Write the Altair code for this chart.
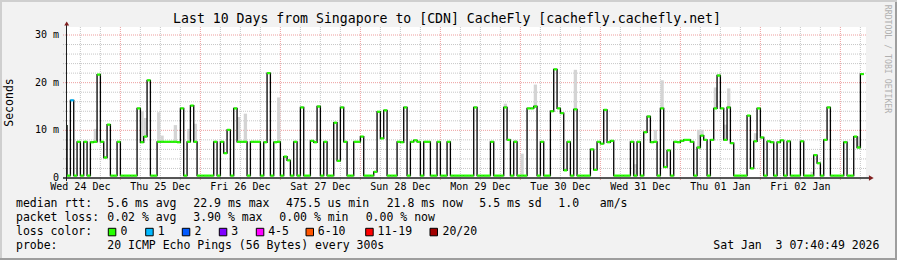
import altair as alt
import pandas as pd
from datetime import datetime, timedelta

FONT = "DejaVu Sans Mono"

# ---------------- data ----------------
graph_start = datetime(2025, 12, 24, 7, 40, 49)
graph_end = datetime(2026, 1, 3, 7, 40, 49)
first_sample = datetime(2025, 12, 24, 7, 0, 0)   # hourly medians start here

# hourly median RTT in ms
median_ms = [
    11.0, 0.5, 16.3, 0.5, 7.6, 0.5, 7.6, 0.5, 7.5, 7.6,
    21.7, 7.6, 4.3, 11.2, 0.5, 0.5, 7.6, 0.5, 0.5, 0.5,
    0.5, 0.5, 14.6, 7.5, 8.7, 20.5, 0.5, 0.5, 7.6, 7.6,
    7.6, 7.6, 7.6, 7.6, 7.5, 14.6, 0.5, 7.6, 15.2, 7.6,
    0.5, 0.5, 0.5, 0.5, 0.5, 7.6, 0.5, 7.6, 5.2, 10.1,
    0.5, 14.6, 7.6, 7.6, 7.6, 0.5, 7.6, 7.6, 7.6, 0.5,
    7.5, 22.0, 0.5, 7.5, 7.6, 0.5, 4.5, 3.7, 0.5, 7.6,
    0.5, 14.8, 0.5, 0.5, 7.8, 7.5, 15.0, 0.5, 7.6, 0.5,
    0.5, 11.6, 3.6, 14.8, 7.6, 0.5, 0.5, 7.6, 7.6, 8.7,
    0.5, 0.5, 0.5, 1.3, 13.9, 8.3, 14.2, 0.5, 0.5, 0.5,
    7.6, 7.5, 14.8, 0.5, 7.6, 7.9, 7.6, 0.5, 7.6, 7.6,
    0.5, 0.5, 7.6, 0.5, 0.5, 7.6, 0.5, 0.5, 0.5, 0.5,
    0.5, 0.5, 0.5, 14.8, 0.5, 0.5, 0.5, 0.5, 7.6, 0.5,
    0.5, 0.5, 14.8, 8.0, 0.5, 7.6, 0.5, 0.5, 0.5, 14.6,
    14.6, 15.0, 0.5, 7.6, 0.5, 0.5, 14.0, 22.8, 14.6, 13.6,
    1.6, 7.6, 0.5, 14.4, 0.5, 0.5, 0.5, 0.5, 6.0, 1.7,
    7.6, 7.2, 14.3, 7.5, 7.8, 0.5, 0.5, 0.5, 0.5, 0.5,
    7.6, 0.5, 7.6, 0.5, 9.6, 12.9, 7.5, 7.6, 0.5, 14.6,
    2.3, 5.8, 0.5, 7.6, 7.5, 7.8, 8.0, 8.0, 7.6, 0.5,
    6.4, 8.9, 8.0, 0.5, 8.0, 14.6, 21.5, 14.6, 8.0, 14.8,
    7.3, 0.5, 0.5, 0.5, 0.5, 13.1, 2.0, 7.7, 14.6, 8.5,
    0.5, 7.7, 7.5, 0.5, 7.5, 7.9, 0.5, 7.7, 0.5, 0.5,
    0.5, 7.7, 0.5, 0.5, 0.5, 4.8, 3.1, 0.5, 8.0, 14.8,
    0.5, 0.5, 0.5, 0.5, 7.5, 0.5, 0.5, 8.7, 6.4, 21.8,
]

# samples with packet loss (sample index -> lost pings of 20)
loss_index = [2]
loss_value = [1]

# smoke (spread of the 20 pings) : sample index and top of smoke in ms
smoke_index = [9, 23, 24, 28, 29, 33, 37, 39, 52, 54, 64, 132, 135, 137, 141,
               153, 171, 177, 179, 190, 191, 195, 198, 199, 207, 224, 238]
smoke_top = [10.3, 14.0, 12.6, 13.8, 8.9, 11.1, 10.3, 11.4, 12.8, 13.5, 16.9,
             15.6, 8.0, 5.1, 19.6, 22.7, 2.9, 10.1, 20.5, 10.1, 10.1, 19.0,
             11.2, 18.8, 9.4, 1.3, 8.7]

day_labels = ["Wed 24 Dec", "Thu 25 Dec", "Fri 26 Dec", "Sat 27 Dec", "Sun 28 Dec",
              "Mon 29 Dec", "Tue 30 Dec", "Wed 31 Dec", "Thu 01 Jan", "Fri 02 Jan"]
y_ticks = [0, 10, 20, 30]
y_tick_labels = ["0", "10 m", "20 m", "30 m"]

loss_names = ["0", "1", "2", "3", "4-5", "6-10", "11-19", "20/20"]
loss_colors = ["#26ff00", "#00b8ff", "#0059ff", "#7e00ff", "#ff00ff", "#ff5500", "#ff0000", "#a10000"]

legend_rows = [
    [("median rtt:", 16), ("5.6 ms avg", 107.3), ("22.9 ms max", 193.3), ("475.5 us min", 286),
     ("21.8 ms now", 386.7), ("5.5 ms sd", 479.3), ("1.0   am/s", 558.3)],
    [("packet loss:", 16), ("0.02 % avg", 107.3), ("3.90 % max", 193.3), ("0.00 % min", 279.3),
     ("0.00 % now", 365.7)],
    [("loss color:", 16)],
    [("probe:", 16), ("20 ICMP Echo Pings (56 Bytes) every 300s", 107.3),
     ("Sat Jan  3 07:40:49 2026", 713.3)],
]

# ---------------- layout ----------------
LEFT, TOP, W, H = 66, 27, 800, 151
TOTAL_W, TOTAL_H = 897, 260
YMAX = 31.68
SPAN_H = (graph_end - graph_start).total_seconds() / 3600.0


def hours(dt):
    return (dt - graph_start).total_seconds() / 3600.0


xs = alt.Scale(domain=[0, SPAN_H], nice=False, zero=False)
ys = alt.Scale(domain=[0, YMAX], nice=False, zero=False)

# ---------------- tables ----------------
loss_of = dict(zip(loss_index, loss_value))
rows = []
for i, m in enumerate(median_ms):
    h = hours(first_sample + timedelta(hours=i))
    lc = loss_of.get(i, 0)
    rows.append({"x": max(0.0, h), "x2": h + 1, "ms": m, "loss": loss_names[min(lc, 1)] if lc <= 1 else str(lc)})
med = pd.DataFrame(rows)

line_df = pd.DataFrame({"x": list(med["x"]) + [med["x2"].iloc[-1]],
                        "ms": list(med["ms"]) + [med["ms"].iloc[-1]]})

smoke_df = pd.DataFrame({
    "x": [med["x"].iloc[i] for i in smoke_index],
    "x2": [med["x2"].iloc[i] for i in smoke_index],
    "lo": [median_ms[i] for i in smoke_index],
    "hi": smoke_top,
})

grid_v = []
t = datetime(2025, 12, 24, 12, 0, 0)
while t < graph_end:
    grid_v.append({"x": hours(t), "major": t.hour == 0})
    t += timedelta(hours=6)
gv = pd.DataFrame(grid_v)
gv_minor = gv[~gv["major"]]
gv_major = gv[gv["major"]]

gh_minor = pd.DataFrame({"v": [v for v in range(2, 31, 2) if v % 10 != 0]})
gh_major = pd.DataFrame({"v": [10, 20, 30]})

day_df = pd.DataFrame({
    "x": [hours(datetime(2025, 12, 24, 12) + timedelta(days=d)) for d in range(len(day_labels))],
    "label": day_labels,
})
ytick_df = pd.DataFrame({"v": y_ticks, "label": y_tick_labels})

one = alt.Data(values=[{"a": 1}])


def px(cx):
    return cx - LEFT


def py(cy):
    return cy - TOP


def keep_spaces(s):
    # SVG collapses runs of spaces; keep them with no-break spaces
    return s.replace(" ", "\u00a0")


def text(s, cx, cy, size=11.5, align="left", angle=0, color="#000000", baseline="middle"):
    return alt.Chart(one).mark_text(
        text=keep_spaces(s), align=align, baseline=baseline, fontSize=size, font=FONT, angle=angle, color=color
    ).encode(x=alt.value(px(cx)), y=alt.value(py(cy)))


def box(cx0, cx1, cy0, cy1, fill, stroke=None):
    kw = {"fill": fill}
    if stroke:
        kw.update(stroke=stroke, strokeWidth=1)
    else:
        kw.update(strokeWidth=0)
    return alt.Chart(one).mark_rect(**kw).encode(
        x=alt.value(px(cx0)), x2=alt.value(px(cx1)), y=alt.value(py(cy0)), y2=alt.value(py(cy1)))


layers = []

# frame shades
layers.append(box(0, TOTAL_W, 0, 2, "#cfcfcf"))
layers.append(box(0, 2, 0, TOTAL_H, "#cfcfcf"))
layers.append(box(0, TOTAL_W, TOTAL_H - 2, TOTAL_H, "#9e9e9e"))
layers.append(box(TOTAL_W - 2, TOTAL_W, 2, TOTAL_H, "#9e9e9e"))

# grid
layers.append(alt.Chart(gv_minor).mark_rule(color="#8f8f8f", opacity=0.5, strokeDash=[1, 1], strokeWidth=1).encode(
    x=alt.X("x:Q", scale=xs, axis=None), y=alt.value(0), y2=alt.value(H + 3)))
layers.append(alt.Chart(gh_minor).mark_rule(color="#8f8f8f", opacity=0.5, strokeDash=[1, 1], strokeWidth=1).encode(
    y=alt.Y("v:Q", scale=ys, axis=None), x=alt.value(-3), x2=alt.value(W)))
layers.append(alt.Chart(gv_major).mark_rule(color="#de4f4f", opacity=0.55, strokeDash=[1, 1], strokeWidth=1).encode(
    x=alt.X("x:Q", scale=xs, axis=None), y=alt.value(0), y2=alt.value(H + 3)))
layers.append(alt.Chart(gh_major).mark_rule(color="#de4f4f", opacity=0.55, strokeDash=[1, 1], strokeWidth=1).encode(
    y=alt.Y("v:Q", scale=ys, axis=None), x=alt.value(-3), x2=alt.value(W)))

# smoke
layers.append(alt.Chart(smoke_df).mark_rect(color="#d4d4d4", strokeWidth=0).encode(
    x=alt.X("x:Q", scale=xs, axis=None), x2="x2:Q",
    y=alt.Y("lo:Q", scale=ys, axis=None), y2="hi:Q"))

# median step line
layers.append(alt.Chart(line_df).mark_line(interpolate="step-after", color="#000000", strokeWidth=1.3).encode(
    x=alt.X("x:Q", scale=xs, axis=None), y=alt.Y("ms:Q", scale=ys, axis=None)))

# loss-coloured median marks
layers.append(alt.Chart(med).mark_rule(strokeWidth=2.2, strokeCap="butt").encode(
    x=alt.X("x:Q", scale=xs, axis=None), x2="x2:Q",
    y=alt.Y("ms:Q", scale=ys, axis=None),
    color=alt.Color("loss:N", scale=alt.Scale(domain=loss_names, range=loss_colors), legend=None)))

# axes
layers.append(alt.Chart(one).mark_rule(color="#1f1f1f", strokeWidth=1).encode(
    x=alt.value(0.5), y=alt.value(-3), y2=alt.value(H + 3)))
layers.append(alt.Chart(one).mark_rule(color="#1f1f1f", strokeWidth=1.5).encode(
    y=alt.value(H), x=alt.value(-3), x2=alt.value(W + 4)))
layers.append(alt.Chart(one).mark_point(shape="triangle-right", filled=True, size=30, color="#801f1f", opacity=1).encode(
    x=alt.value(W + 5.3), y=alt.value(H)))
layers.append(alt.Chart(one).mark_point(shape="triangle-up", filled=True, size=24, color="#801f1f", opacity=1).encode(
    x=alt.value(0.7), y=alt.value(-3.5)))

# axis labels
layers.append(alt.Chart(ytick_df).mark_text(align="right", baseline="middle", font=FONT, fontSize=10, color="#000000").encode(
    y=alt.Y("v:Q", scale=ys, axis=None), x=alt.value(-7), text="label:N"))
layers.append(alt.Chart(day_df).mark_text(align="center", baseline="middle", font=FONT, fontSize=10, color="#000000").encode(
    x=alt.X("x:Q", scale=xs, axis=None), y=alt.value(py(187.3)), text="label:N"))

# titles
layers.append(text("Last 10 Days from Singapore to [CDN] CacheFly [cachefly.cachefly.net]", 447, 19.3,
                   size=13.2, align="center"))
layers.append(text("Seconds", 10.3, 102.5, size=11.5, align="center", angle=270))
layers.append(text("RRDTOOL / TOBI OETIKER", 887, 59, size=8.2, align="center", angle=90, color="#b0b0b0"))

# legend
row_y = [204, 218, 232, 246]
for r, items in enumerate(legend_rows):
    for s, cx in items:
        layers.append(text(s, cx, row_y[r]))

box_x = [108.3, 145.7, 182.3, 219.3, 256.3, 306, 365.7, 430]
lab_x = [120.5, 157.8, 194.5, 231.2, 268.2, 317.8, 377.5, 442.5]
for name, col, bx, lx in zip(loss_names, loss_colors, box_x, lab_x):
    layers.append(box(bx, bx + 7.5, 228.3, 235.8, col, stroke="#000000"))
    layers.append(text(name, lx, row_y[2]))

chart = alt.layer(*layers).properties(
    width=W, height=H,
    autosize=alt.AutoSizeParams(type="none"),
    padding={"left": LEFT, "top": TOP, "right": TOTAL_W - LEFT - W, "bottom": TOTAL_H - TOP - H},
    background="#f2f2f2",
).configure_view(fill="#ffffff", strokeWidth=0)

chart.save("out.html", embed_options={"renderer": "svg", "actions": False})
